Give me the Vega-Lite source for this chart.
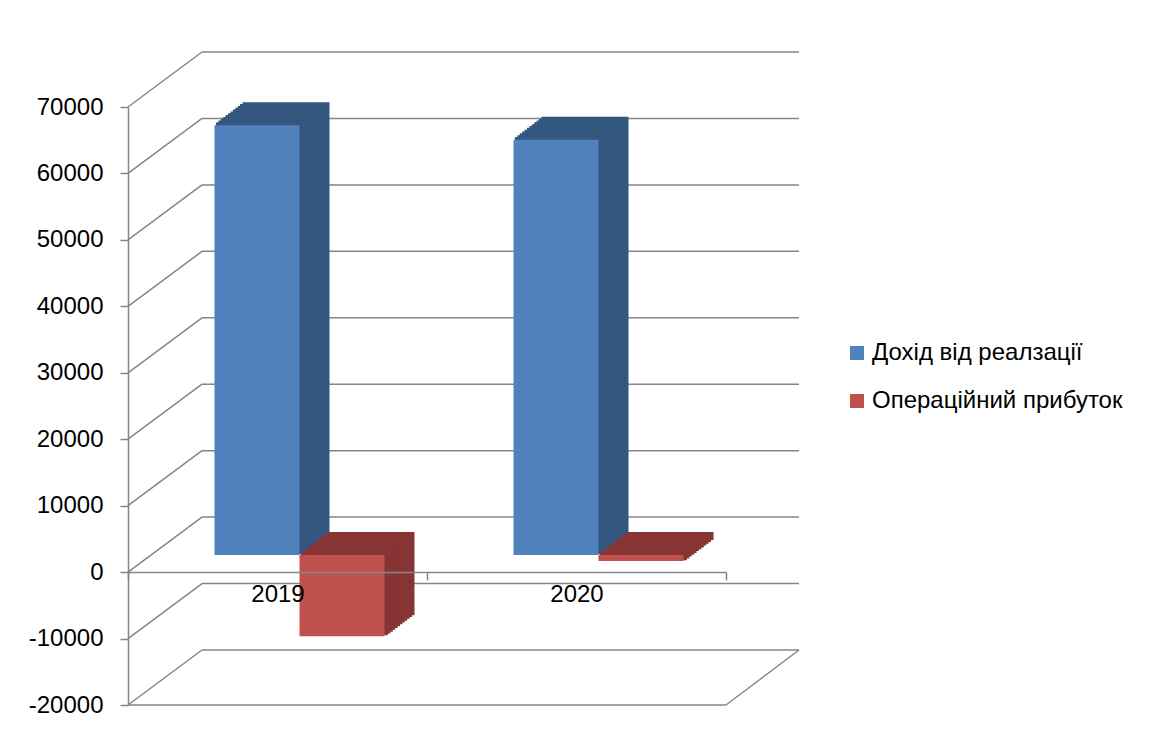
{
  "$schema": "https://vega.github.io/schema/vega-lite/v6.json",
  "autosize": {"type": "none"},
  "width": 598,
  "height": 598,
  "padding": {"left": 128, "top": 107, "right": 429, "bottom": 42},
  "background": "#ffffff",
  "datasets": {
    "bars": [
      {"year": "2019", "series": "Дохід від реалзації", "value": 64700},
      {"year": "2019", "series": "Операційний прибуток", "value": -12200},
      {"year": "2020", "series": "Дохід від реалзації", "value": 62500},
      {"year": "2020", "series": "Операційний прибуток", "value": -900}
    ],
    "grid": [
      {"value": -20000}, {"value": -10000}, {"value": 0}, {"value": 10000}, {"value": 20000},
      {"value": 30000}, {"value": 40000}, {"value": 50000}, {"value": 60000}, {"value": 70000}
    ]
  },
  "data": {"name": "bars"},
  "encoding": {
    "y": {"field": "value", "type": "quantitative", "title": null,
      "scale": {"domain": [-20000, 70000], "nice": false, "zero": false},
      "axis": {"values": [-20000, -10000, 0, 10000, 20000, 30000, 40000, 50000, 60000, 70000], "format": "d", "labelExpr": "replace(datum.label, '−', '-')", "grid": false, "title": null}}
  },
  "layer": [
    {"data": {"name": "grid"},
     "mark": {"type": "rule", "color": "#868686", "strokeWidth": 1.5, "xOffset": 74, "x2Offset": 222.5, "yOffset": -55, "y2Offset": -55},
     "encoding": {
       "x": {"datum": "2019", "bandPosition": 0, "type": "nominal"},
       "x2": {"datum": "2020"},
       "y2": {"field": "value"}
     }},
    {"data": {"name": "grid"},
     "mark": {"type": "rule", "color": "#868686", "strokeWidth": 1.5, "x2Offset": -75.5, "y2Offset": -55},
     "encoding": {
       "x": {"datum": "2019", "bandPosition": 0, "type": "nominal"},
       "x2": {"datum": "2019"},
       "y2": {"field": "value"}
     }},
    {"data": {"name": "grid"},
     "transform": [{"filter": "datum.value === -20000"}],
     "mark": {"type": "rule", "color": "#868686", "strokeWidth": 1.5},
     "encoding": {}},
    {"data": {"name": "grid"},
     "transform": [{"filter": "datum.value === -20000"}],
     "mark": {"type": "rule", "color": "#868686", "strokeWidth": 1.5, "x2Offset": 222.5, "y2Offset": -55},
     "encoding": {
       "x": {"datum": "2020", "bandPosition": 1, "type": "nominal"},
       "x2": {"datum": "2020"},
       "y2": {"field": "value"}
     }},
    {"transform": [{"filter": "datum.series === 'Дохід від реалзації'"}],
     "layer": [
       {"mark": {"type": "bar", "color": "#34577f", "stroke": "#34577f", "strokeWidth": 2, "xOffset": 8.5, "x2Offset": 8.5, "yOffset": -39, "y2Offset": -39}},
       {"mark": {"type": "bar", "color": "#34577f", "stroke": "#34577f", "strokeWidth": 2, "xOffset": 6.08, "x2Offset": 6.08, "yOffset": -37.17, "y2Offset": -37.17}},
       {"mark": {"type": "bar", "color": "#34577f", "stroke": "#34577f", "strokeWidth": 2, "xOffset": 3.67, "x2Offset": 3.67, "yOffset": -35.33, "y2Offset": -35.33}},
       {"mark": {"type": "bar", "color": "#34577f", "stroke": "#34577f", "strokeWidth": 2, "xOffset": 1.25, "x2Offset": 1.25, "yOffset": -33.5, "y2Offset": -33.5}},
       {"mark": {"type": "bar", "color": "#34577f", "stroke": "#34577f", "strokeWidth": 2, "xOffset": -1.17, "x2Offset": -1.17, "yOffset": -31.67, "y2Offset": -31.67}},
       {"mark": {"type": "bar", "color": "#34577f", "stroke": "#34577f", "strokeWidth": 2, "xOffset": -3.58, "x2Offset": -3.58, "yOffset": -29.83, "y2Offset": -29.83}},
       {"mark": {"type": "bar", "color": "#34577f", "stroke": "#34577f", "strokeWidth": 2, "xOffset": -6, "x2Offset": -6, "yOffset": -28, "y2Offset": -28}},
       {"mark": {"type": "bar", "color": "#34577f", "stroke": "#34577f", "strokeWidth": 2, "xOffset": -8.42, "x2Offset": -8.42, "yOffset": -26.17, "y2Offset": -26.17}},
       {"mark": {"type": "bar", "color": "#34577f", "stroke": "#34577f", "strokeWidth": 2, "xOffset": -10.83, "x2Offset": -10.83, "yOffset": -24.33, "y2Offset": -24.33}},
       {"mark": {"type": "bar", "color": "#34577f", "stroke": "#34577f", "strokeWidth": 2, "xOffset": -13.25, "x2Offset": -13.25, "yOffset": -22.5, "y2Offset": -22.5}},
       {"mark": {"type": "bar", "color": "#34577f", "stroke": "#34577f", "strokeWidth": 2, "xOffset": -15.67, "x2Offset": -15.67, "yOffset": -20.67, "y2Offset": -20.67}},
       {"mark": {"type": "bar", "color": "#34577f", "stroke": "#34577f", "strokeWidth": 2, "xOffset": -18.08, "x2Offset": -18.08, "yOffset": -18.83, "y2Offset": -18.83}},
       {"mark": {"type": "bar", "xOffset": -20.5, "x2Offset": -20.5, "yOffset": -17, "y2Offset": -17},
        "encoding": {"color": {"field": "series", "type": "nominal",
          "scale": {"domain": ["Дохід від реалзації", "Операційний прибуток"], "range": ["#4f81bd", "#c0504d"]},
          "legend": {"orient": "none", "legendX": 717, "legendY": 234, "title": null, "symbolType": "square", "symbolSize": 196, "symbolStrokeWidth": 0, "labelFontSize": 24, "labelFont": "Liberation Sans", "labelColor": "#000000", "labelLimit": 0, "rowPadding": 24, "labelOffset": 3, "padding": 0}}}}
     ],
     "encoding": {
       "x": {"field": "year", "type": "nominal", "title": null, "scale": {"paddingInner": 0, "paddingOuter": 0},
         "axis": {"zindex": 1, "offset": -133, "tickBand": "extent", "labelPadding": 14, "labelAngle": 0, "labelAlign": "center", "grid": false, "title": null}}
     }},
    {"transform": [{"filter": "datum.series === 'Операційний прибуток'"}],
     "layer": [
       {"mark": {"type": "bar", "color": "#873534", "stroke": "#873534", "strokeWidth": 2, "xOffset": 93.5, "x2Offset": 93.5, "yOffset": -39, "y2Offset": -39}},
       {"mark": {"type": "bar", "color": "#873534", "stroke": "#873534", "strokeWidth": 2, "xOffset": 91.08, "x2Offset": 91.08, "yOffset": -37.17, "y2Offset": -37.17}},
       {"mark": {"type": "bar", "color": "#873534", "stroke": "#873534", "strokeWidth": 2, "xOffset": 88.67, "x2Offset": 88.67, "yOffset": -35.33, "y2Offset": -35.33}},
       {"mark": {"type": "bar", "color": "#873534", "stroke": "#873534", "strokeWidth": 2, "xOffset": 86.25, "x2Offset": 86.25, "yOffset": -33.5, "y2Offset": -33.5}},
       {"mark": {"type": "bar", "color": "#873534", "stroke": "#873534", "strokeWidth": 2, "xOffset": 83.83, "x2Offset": 83.83, "yOffset": -31.67, "y2Offset": -31.67}},
       {"mark": {"type": "bar", "color": "#873534", "stroke": "#873534", "strokeWidth": 2, "xOffset": 81.42, "x2Offset": 81.42, "yOffset": -29.83, "y2Offset": -29.83}},
       {"mark": {"type": "bar", "color": "#873534", "stroke": "#873534", "strokeWidth": 2, "xOffset": 79, "x2Offset": 79, "yOffset": -28, "y2Offset": -28}},
       {"mark": {"type": "bar", "color": "#873534", "stroke": "#873534", "strokeWidth": 2, "xOffset": 76.58, "x2Offset": 76.58, "yOffset": -26.17, "y2Offset": -26.17}},
       {"mark": {"type": "bar", "color": "#873534", "stroke": "#873534", "strokeWidth": 2, "xOffset": 74.17, "x2Offset": 74.17, "yOffset": -24.33, "y2Offset": -24.33}},
       {"mark": {"type": "bar", "color": "#873534", "stroke": "#873534", "strokeWidth": 2, "xOffset": 71.75, "x2Offset": 71.75, "yOffset": -22.5, "y2Offset": -22.5}},
       {"mark": {"type": "bar", "color": "#873534", "stroke": "#873534", "strokeWidth": 2, "xOffset": 69.33, "x2Offset": 69.33, "yOffset": -20.67, "y2Offset": -20.67}},
       {"mark": {"type": "bar", "color": "#873534", "stroke": "#873534", "strokeWidth": 2, "xOffset": 66.92, "x2Offset": 66.92, "yOffset": -18.83, "y2Offset": -18.83}},
       {"mark": {"type": "bar", "xOffset": 64.5, "x2Offset": 64.5, "yOffset": -17, "y2Offset": -17},
        "encoding": {"color": {"field": "series", "type": "nominal",
          "scale": {"domain": ["Дохід від реалзації", "Операційний прибуток"], "range": ["#4f81bd", "#c0504d"]}}}}
     ],
     "encoding": {
       "x": {"field": "year", "type": "nominal", "title": null, "scale": {"paddingInner": 0, "paddingOuter": 0},
         "axis": {"zindex": 1, "offset": -133, "tickBand": "extent", "labelPadding": 14, "labelAngle": 0, "labelAlign": "center", "grid": false, "title": null}}
     }}
  ],
  "config": {
    "view": {"stroke": null},
    "font": "Liberation Sans",
    "bar": {"width": 85},
    "axis": {
      "labelFont": "Liberation Sans",
      "labelFontSize": 24,
      "labelColor": "#000000",
      "domainColor": "#868686",
      "domainWidth": 1.5,
      "tickColor": "#868686",
      "tickWidth": 1.5,
      "tickSize": 8,
      "title": null
    },
    "axisY": {"labelPadding": 17}
  }
}
